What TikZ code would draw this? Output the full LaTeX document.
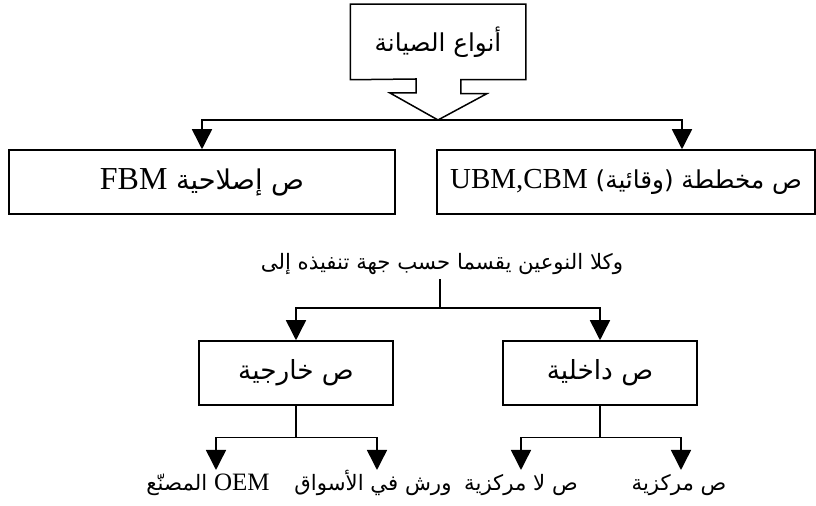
\documentclass[tikz,border=0pt]{standalone}
\usepackage{fontspec}
\setmainfont{Liberation Serif}
\newfontfamily\arabicfont[Script=Arabic,Scale=0.85]{DejaVu Sans}
\TeXXeTstate=1
\usetikzlibrary{arrows.meta}
\newcommand{\artext}[1]{{\arabicfont\beginR #1\endR}}
\newcommand{\lattext}[1]{{\rmfamily\beginL #1\endL}}
\newcommand{\fs}[1]{\fontsize{#1}{#1}\selectfont}

\begin{document}
\begin{tikzpicture}[x=0.5pt, y=-0.5pt, line width=0.75pt,
    font=\fs{16},
    box/.style={draw, inner sep=0pt, minimum height=32pt},
    arr/.style={-{Triangle[length=10pt, width=10pt]}},
    lbl/.style={inner sep=0pt, text height=10pt, text depth=3pt, anchor=north, font=\fs{12.5}}]
  \useasboundingbox (0,0) rectangle (816,506);
  % top callout
  \node[minimum width=87pt, minimum height=37pt, font=\fs{14.5}] (kinds) at (438,42) {\artext{أنواع الصيانة}};
  \coordinate (tip) at (438,120);
  \draw (kinds.south east) -- ++(-65,0) -- ++(0,14) -- ++(26,0) -- (tip) -- ++(-48,-27) -- ++(26,0) -- ++(0,-14) -- (kinds.south west) -- (kinds.north west) -- (kinds.north east) -- cycle;
  \node[box, minimum width=193pt] (fbm) at (202,182) {\artext{ص إصلاحية \lattext{FBM}}};
  \node[box, minimum width=189pt, font=\fs{14.5}] (ubm) at (626,182) {\artext{ص مخططة (وقائية) \lattext{UBM,CBM}}};
  \draw[arr] (tip) -| (fbm.north);
  \draw[arr] (tip) -| ([xshift=28pt]ubm.north);
  % second level
  \node[inner sep=2pt, font=\fs{12.5}] (both) at (442,264) {\artext{وكلا النوعين يقسما حسب جهة تنفيذه إلى}};
  \coordinate (fork) at (440,308);
  \node[box, minimum width=97pt, font=\fs{15.5}] (ext) at (296,373) {\artext{ص خارجية}};
  \node[box, minimum width=97pt, font=\fs{15.5}] (int) at (600,373) {\artext{ص داخلية}};
  \draw (both.south -| fork) -- (fork);
  \draw[arr] (fork) -| (ext.north);
  \draw[arr] (fork) -| (int.north);
  % leaves
  \node[lbl] (oem) at (208,470) {\artext{\lattext{OEM} المصنّع}};
  \node[lbl] (souq) at (373,470) {\artext{ورش في الأسواق}};
  \node[lbl] (decent) at (521,470) {\artext{ص لا مركزية}};
  \node[lbl] (cent) at (679,470) {\artext{ص مركزية}};
  \draw (ext.south) -- ++(0,32) coordinate (extfork);
  \draw (int.south) -- ++(0,32) coordinate (intfork);
  \draw[arr] (extfork) -| ([xshift=4pt]oem.north);
  \draw[arr] (extfork) -| ([xshift=2pt]souq.north);
  \draw[arr] (intfork) -| (decent.north);
  \draw[arr] (intfork) -| ([xshift=1pt]cent.north);
\end{tikzpicture}
\end{document}
